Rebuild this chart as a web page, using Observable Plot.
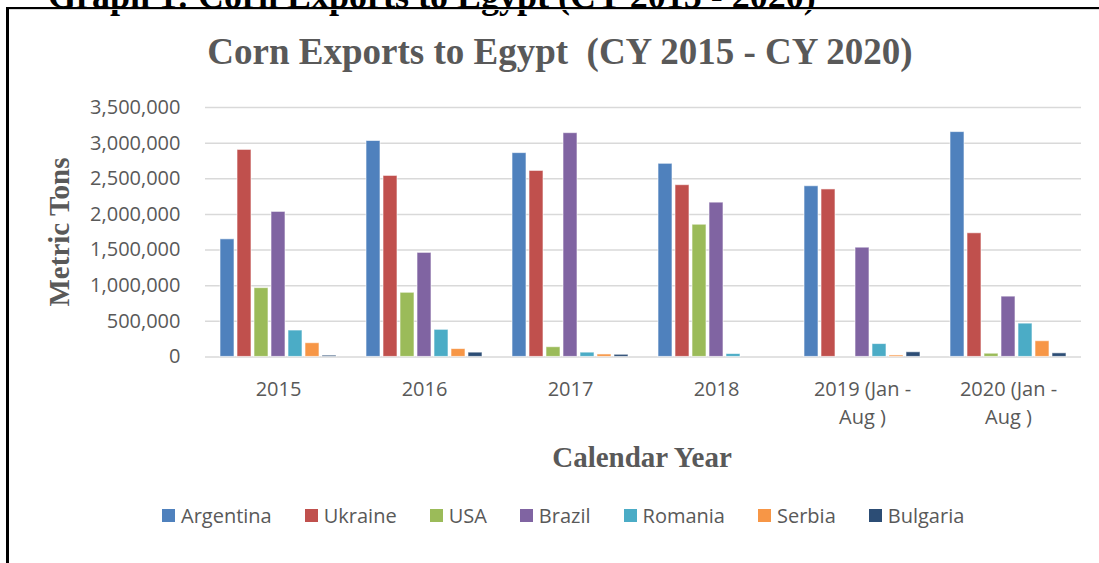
<!DOCTYPE html>
<html>
<head>
<meta charset="utf-8">
<script src="https://cdn.jsdelivr.net/npm/d3@7"></script>
<script src="https://cdn.jsdelivr.net/npm/@observablehq/plot@0.6"></script>
<style>
  html, body { margin: 0; padding: 0; background: #fff; width: 1099px; height: 563px; overflow: hidden; }
  #page { position: relative; width: 1099px; height: 563px; overflow: hidden; }
  .abs { position: absolute; }
  #heading { left: 48px; top: -22px; font: bold 36px "Liberation Serif", "Times New Roman", serif; line-height: 1; color: #000; white-space: nowrap; }
  #box { left: 6px; top: 7px; width: 1200px; height: 700px; border-top: 2px solid #000; border-left: 3px solid #000; }
  #innerline { left: 9px; top: 9px; width: 1200px; height: 0; border-top: 1px solid #d9d9d9; }
  #title { left: 0; width: 1120px; top: 33px; text-align: center; font: bold 37px "Liberation Serif", "Times New Roman", serif; line-height: 1; color: #595959; white-space: pre; }
  .axtitle { font: bold 29px "Liberation Serif", "Times New Roman", serif; line-height: 1; color: #595959; white-space: nowrap; }
  #ytitle { left: 59px; top: 232px; transform: translate(-50%, -50%) rotate(-90deg); }
  #xtitle { left: 642px; top: 457px; transform: translate(-50%, -50%); }
  #chart { left: 0; top: 80px; }
  #legend { left: 162px; top: 503px; display: flex; align-items: center; height: 24px; font: 20px "Open Sans", sans-serif; color: #595959; white-space: nowrap; }
  .item { display: flex; align-items: center; margin-right: 33px; }
  .sw { width: 13px; height: 13px; margin-right: 6px; }
</style>
</head>
<body>
<div id="page">
  <div id="heading" class="abs">Graph 1: Corn Exports to Egypt (CY 2015 - 2020)</div>
  <div id="box" class="abs"></div>
  <div id="innerline" class="abs"></div>
  <div id="title" class="abs">Corn Exports to Egypt  (CY 2015 - CY 2020)</div>
  <div id="ytitle" class="abs axtitle">Metric Tons</div>
  <div id="xtitle" class="abs axtitle">Calendar Year</div>
  <div id="chart" class="abs"></div>
  <div id="legend" class="abs"></div>
</div>
<script>
const years = ["2015", "2016", "2017", "2018", "2019", "2020"];
const yearLabels = ["2015", "2016", "2017", "2018", "2019 (Jan -\nAug )", "2020 (Jan -\nAug )"];
const countries = ["Argentina", "Ukraine", "USA", "Brazil", "Romania", "Serbia", "Bulgaria"];
const colors = ["#4F81BD", "#C0504D", "#9BBB59", "#8064A2", "#4BACC6", "#F79646", "#2C4D75"];
const yTicks = [0, 500000, 1000000, 1500000, 2000000, 2500000, 3000000, 3500000];

const argentina = [1650000, 3030000, 2860000, 2710000, 2395000, 3155000];
const ukraine   = [2905000, 2540000, 2610000, 2410000, 2350000, 1735000];
const usa       = [965000, 900000, 136000, 1855000, 0, 45000];
const brazil    = [2035000, 1460000, 3140000, 2165000, 1533000, 846000];
const romania   = [370000, 380000, 60000, 40000, 180000, 467000];
const serbia    = [192000, 110000, 34000, 0, 20000, 220000];
const bulgaria  = [18000, 60000, 30000, 0, 65000, 50000];

const series = [argentina, ukraine, usa, brazil, romania, serbia, bulgaria];
const table = years.flatMap((year, i) =>
  countries.map((country, j) => ({year, country, value: series[j][i]}))
);

const chart = Plot.plot({
  width: 1099,
  height: 420,
  marginTop: 27,
  marginBottom: 143.6,
  marginLeft: 202,
  marginRight: 16,
  style: {fontFamily: "'Open Sans', sans-serif", fontSize: "20px", color: "#595959", background: "transparent", overflow: "visible"},
  fx: {domain: years, padding: 0, axis: null},
  x: {domain: countries, axis: null, paddingInner: 0.19, paddingOuter: 0.78},
  y: {domain: [0, 3500000], ticks: yTicks, tickFormat: d3.format(","), tickSize: 0, tickPadding: 25, label: null},
  color: {domain: countries, range: colors},
  marks: [
    Plot.ruleY(yTicks, {stroke: "#d9d9d9", strokeWidth: 1.5}),
    Plot.barY(table, {fx: "year", x: "country", y: "value", fill: "country", stroke: "white", strokeOpacity: 0.6, strokeWidth: 1}),
    Plot.text(years, {fx: d => d, text: (d, i) => yearLabels[i], frameAnchor: "bottom", lineAnchor: "top", dy: 19, lineHeight: 1.4, fill: "#595959"})
  ]
});
document.getElementById("chart").appendChild(chart);

const legend = document.getElementById("legend");
countries.forEach((c, i) => {
  const item = document.createElement("div");
  item.className = "item";
  const sw = document.createElement("div");
  sw.className = "sw";
  sw.style.background = colors[i];
  const label = document.createElement("span");
  label.textContent = c;
  item.appendChild(sw);
  item.appendChild(label);
  legend.appendChild(item);
});
</script>
</body>
</html>
